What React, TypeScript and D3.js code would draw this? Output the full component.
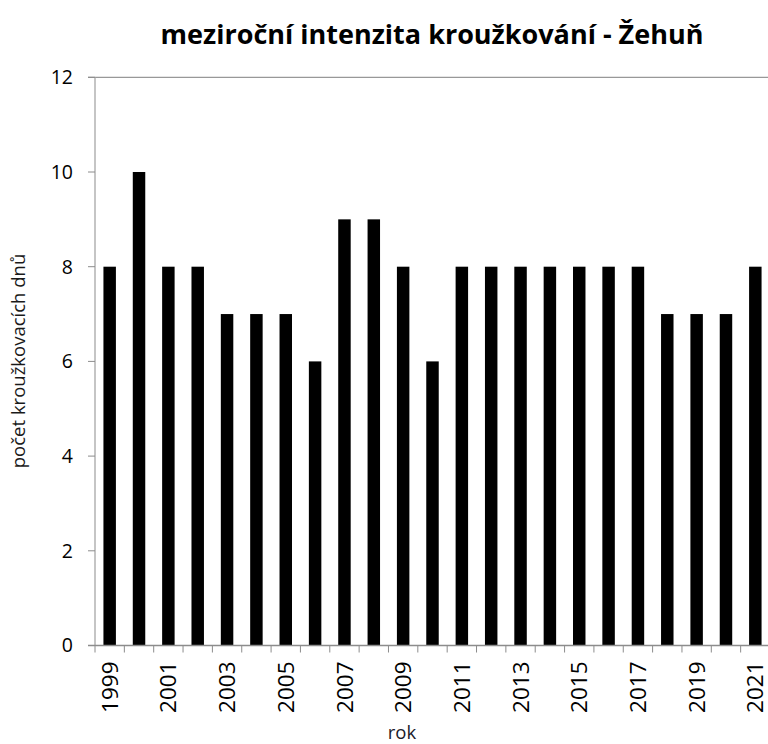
import React from "react";
import * as d3 from "d3";

const years = [
  "1999", "2000", "2001", "2002", "2003", "2004", "2005", "2006", "2007", "2008", "2009",
  "2010", "2011", "2012", "2013", "2014", "2015", "2016", "2017", "2018", "2019", "2020", "2021",
];
const values = [8, 10, 8, 8, 7, 7, 7, 6, 9, 9, 8, 6, 8, 8, 8, 8, 8, 8, 8, 7, 7, 7, 8];
const yTicks = [0, 2, 4, 6, 8, 10, 12];
const title = "meziroční intenzita kroužkování - Žehuň";
const yLabel = "počet kroužkovacích dnů";
const xLabel = "rok";

export default function App() {
  const W = 768, H = 744;
  const left = 95, right = 770, top = 77.3, bottom = 645.5;
  const x = d3.scaleBand<string>().domain(years).range([left, right]).paddingInner(0.575).paddingOuter(0.2875);
  const y = d3.scaleLinear().domain([0, 12]).range([bottom, top]);
  const step = x.step();
  const font = "'Open Sans', sans-serif";
  return (
    <svg width={W} height={H} style={{ position: "absolute", left: 0, top: 0, background: "#fff" }}>
      <text x={432} y={44} textAnchor="middle" fontFamily={font} fontWeight="bold" fontSize={27} fill="#000">{title}</text>
      {/* top line at 12 */}
      <line x1={88} x2={W} y1={y(12)} y2={y(12)} stroke="#7f7f7f" strokeWidth={1} />
      {/* bars */}
      {years.map((yr, i) => (
        <rect key={yr} x={x(yr)} y={y(values[i])} width={x.bandwidth()} height={y(0) - y(values[i])} fill="#000" />
      ))}
      {/* y axis */}
      <line x1={left} x2={left} y1={y(12)} y2={y(0)} stroke="#a6a6a6" strokeWidth={1.3} />
      {yTicks.map(t => (
        <g key={t}>
          <line x1={88} x2={left} y1={y(t)} y2={y(t)} stroke="#8c8c8c" strokeWidth={1} />
          <text x={73} y={y(t)} dy="0.35em" textAnchor="end" fontFamily={font} fontSize={19.5} fill="#000">{t}</text>
        </g>
      ))}
      {/* x axis */}
      <line x1={88} x2={W} y1={y(0)} y2={y(0)} stroke="#8c8c8c" strokeWidth={1.3} />
      {years.map((yr, i) => (
        <line key={"t" + yr} x1={left + i * step} x2={left + i * step} y1={y(0)} y2={y(0) + 7} stroke="#8c8c8c" strokeWidth={1} />
      ))}
      {years.map((yr, i) => i % 2 === 0 ? (
        <text key={"l" + yr} transform={`translate(${(x(yr) as number) + x.bandwidth() / 2},${y(0) + 16}) rotate(-90)`}
          textAnchor="end" dy="0.36em" fontFamily={font} fontSize={22.5} fill="#000">{yr}</text>
      ) : null)}
      <text x={402} y={739} textAnchor="middle" fontFamily={font} fontSize={18.5} fill="#1a1a2a">{xLabel}</text>
      <text transform={`translate(25,361) rotate(-90)`} textAnchor="middle" fontFamily={font} fontSize={18.5} fill="#1a1a1a">{yLabel}</text>
    </svg>
  );
}
